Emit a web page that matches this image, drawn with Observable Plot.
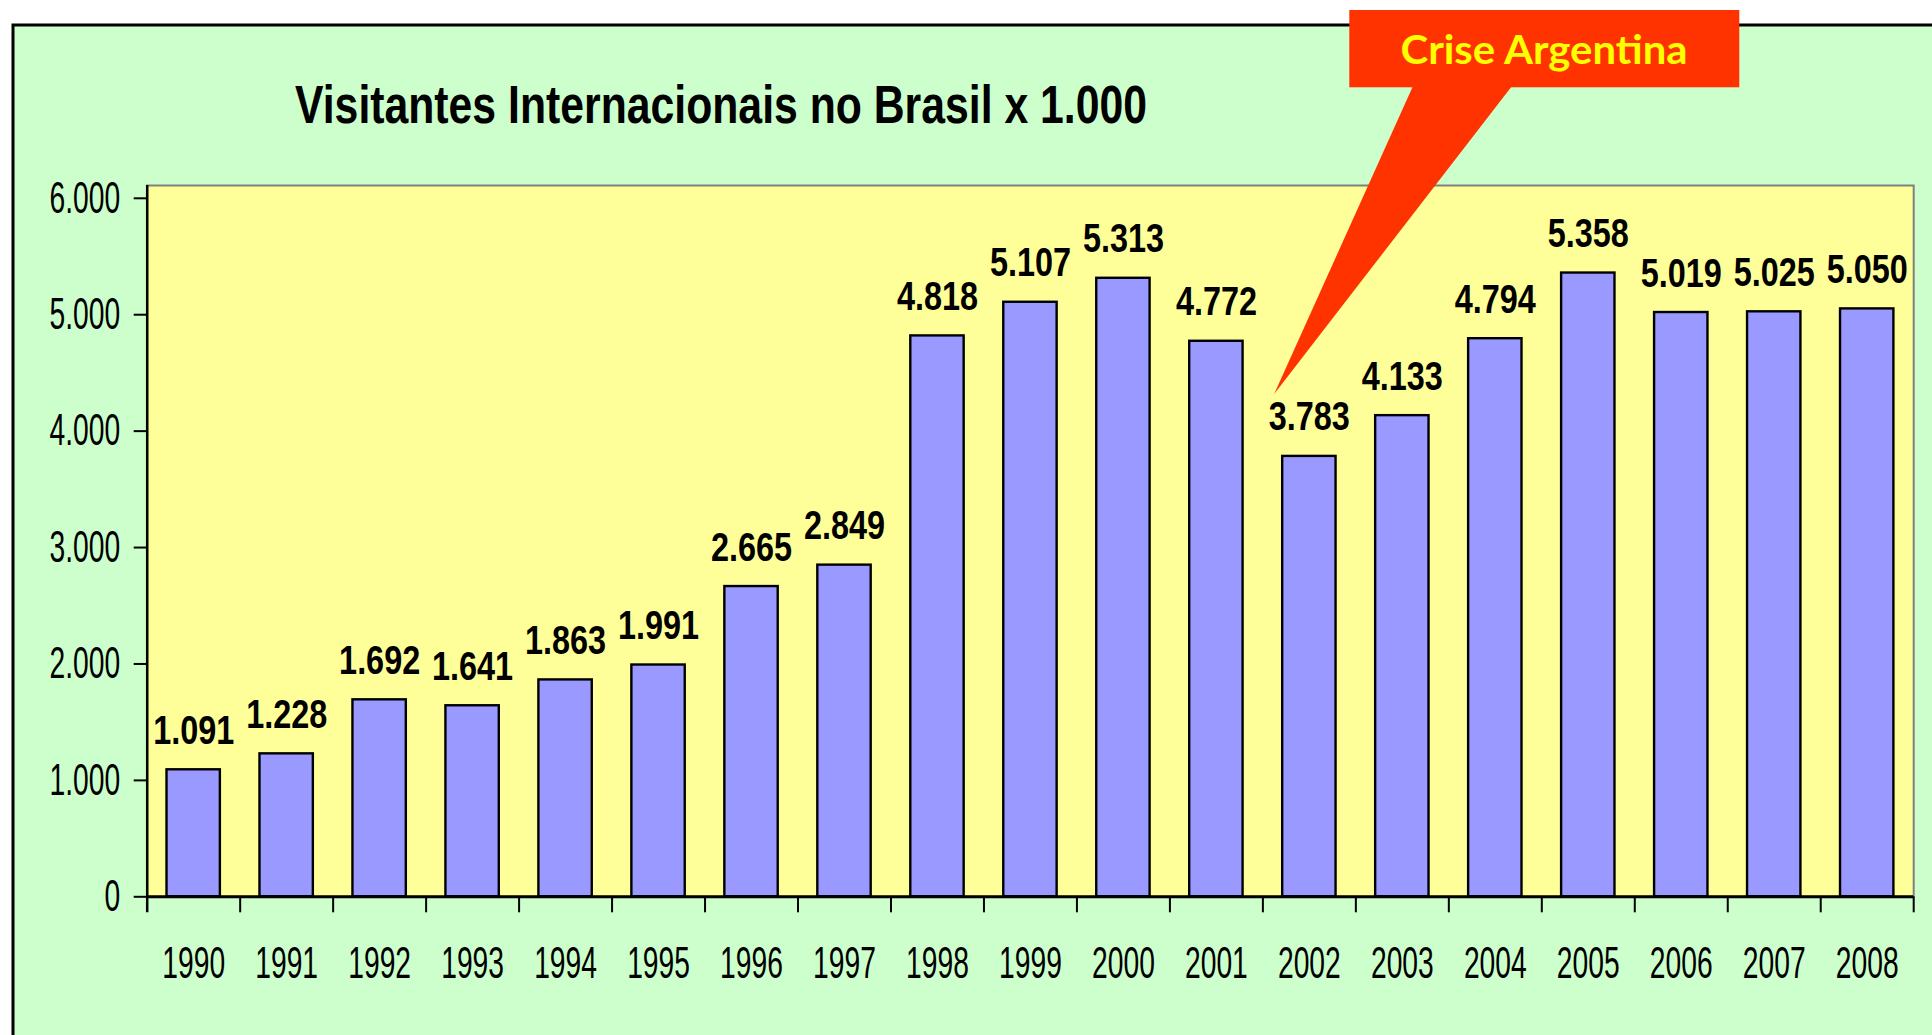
<!DOCTYPE html>
<html>
<head>
<meta charset="utf-8">
<script src="https://cdn.jsdelivr.net/npm/d3@7"></script>
<script src="https://cdn.jsdelivr.net/npm/@observablehq/plot@0.6"></script>
<style>
  html, body { margin: 0; padding: 0; background: #ffffff; overflow: hidden; }
  #chart svg { display: block; }
</style>
</head>
<body>
<div id="chart"></div>
<script>
// ---- Data ----
const years = ["1990","1991","1992","1993","1994","1995","1996","1997","1998","1999",
               "2000","2001","2002","2003","2004","2005","2006","2007","2008"];
const visitors = [1091, 1228, 1692, 1641, 1863, 1991, 2665, 2849, 4818, 5107,
                  5313, 4772, 3783, 4133, 4794, 5358, 5019, 5025, 5050];
const yTicks = [0, 1000, 2000, 3000, 4000, 5000, 6000];
const titleText = "Visitantes Internacionais no Brasil x 1.000";
const calloutText = "Crise Argentina";
const calloutYear = "2002";
const calloutValue = 4315;

// ---- Helpers ----
const fmt = d3.formatLocale({decimal: ",", thousands: ".", grouping: [3], currency: ["R$", ""]}).format(",d");
const data = years.map((year, i) => ({year, value: visitors[i]}));

// ---- Layout ----
const W = 1932, H = 1035;
const mL = 146.7, mR = 18.8, mT = 185, mB = 138.7;
const plotW = W - mL - mR, plotH = H - mT - mB;
const step = plotW / years.length;

const plot = Plot.plot({
  width: W, height: H,
  marginLeft: mL, marginRight: mR, marginTop: mT, marginBottom: mB,
  style: {background: "transparent", fontFamily: "'Liberation Sans', Arial, sans-serif", color: "black", overflow: "visible"},
  x: {domain: years, paddingInner: 0.426, paddingOuter: 0.213, round: false, axis: null},
  y: {domain: [0, 6110], axis: null},
  marks: [
    Plot.frame({fill: "#FFFF99", stroke: "#808080", strokeWidth: 2}),
    Plot.barY(data, {x: "year", y: "value", fill: "#9999FF", stroke: "black", strokeWidth: 2.4}),
    // left axis line (extends down as the first tick)
    Plot.ruleX([years[0]], {x: d => d, dx: -step / 2, stroke: "black", strokeWidth: 2.5, insetBottom: -16}),
    // category boundary ticks
    Plot.ruleX(years, {x: d => d, dx: step / 2, stroke: "black", strokeWidth: 2, insetTop: plotH, insetBottom: -16}),
    // baseline
    Plot.ruleY([0], {stroke: "black", strokeWidth: 3}),
    // y ticks
    Plot.ruleY(yTicks, {y: d => d, stroke: "black", strokeWidth: 2, insetLeft: -13, insetRight: plotW}),
    // y tick labels
    Plot.text(yTicks, {y: d => d, text: d => fmt(d), frameAnchor: "left", textAnchor: "end", dx: -27, fontSize: 44.5}),
    // x labels
    Plot.text(years, {x: d => d, text: d => d, frameAnchor: "bottom", lineAnchor: "bottom", dy: 80.7, fontSize: 44.5}),
    // value labels
    Plot.text(data, {x: "year", y: "value", text: d => fmt(d.value), lineAnchor: "bottom", dy: -26, fontSize: 40, fontWeight: "bold"})
  ]
});

document.getElementById("chart").appendChild(plot);

// condense texts horizontally (the reference uses narrow, stretched type)
function squeeze(group, s) {
  d3.select(group).selectAll("text").each(function () {
    const t = this.getAttribute("transform");
    if (t) {
      this.setAttribute("transform", t + ` scale(${s},1)`);
    } else {
      const x = parseFloat(this.getAttribute("x")) || 0;
      this.setAttribute("transform", `translate(${x},0) scale(${s},1) translate(${-x},0)`);
    }
  });
}
const textGroups = plot.querySelectorAll('g[aria-label="text"]');
squeeze(textGroups[0], 0.635);
squeeze(textGroups[1], 0.635);
squeeze(textGroups[2], 0.81);

const svg = d3.select(plot);
// outer green panel (continues beyond right/bottom edges)
svg.insert("rect", ":first-child")
  .attr("x", 13).attr("y", 25).attr("width", W + 20).attr("height", H + 20)
  .attr("fill", "#CCFFCC").attr("stroke", "black").attr("stroke-width", 3);

// title
svg.append("text")
  .attr("x", 295).attr("y", 123.3)
  .attr("text-anchor", "start")
  .attr("font-family", "'Liberation Sans', Arial, sans-serif")
  .attr("font-weight", "bold").attr("font-size", 53.5)
  .attr("fill", "black")
  .attr("textLength", 852).attr("lengthAdjust", "spacingAndGlyphs")
  .text(titleText);

// callout
const xs = plot.scale("x"), ys = plot.scale("y");
const tipX = xs.apply(calloutYear) - 8, tipY = ys.apply(calloutValue);
svg.append("polygon")
  .attr("points", `1413,86 1512,86 ${tipX},${tipY}`)
  .attr("fill", "#FF3300");
svg.append("rect")
  .attr("x", 1349.3).attr("y", 10).attr("width", 390).attr("height", 77.3)
  .attr("fill", "#FF3300");
svg.append("text")
  .attr("x", 1544).attr("y", 63.5).attr("text-anchor", "middle")
  .attr("font-family", "Lato, 'Open Sans', sans-serif")
  .attr("font-weight", "bold").attr("font-size", 41)
  .attr("fill", "#FFFF00")
  .attr("textLength", 287).attr("lengthAdjust", "spacingAndGlyphs")
  .text(calloutText);
</script>
</body>
</html>
